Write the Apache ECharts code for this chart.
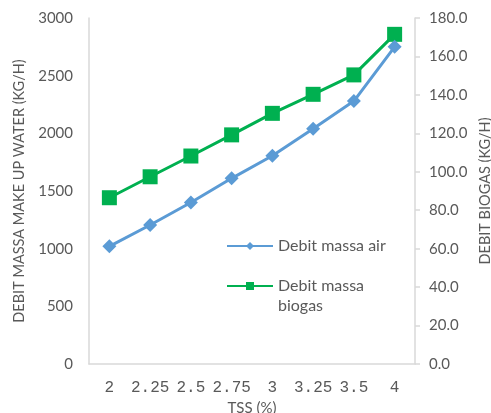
<!DOCTYPE html>
<html>
<head>
<meta charset="utf-8">
<script src="https://cdn.jsdelivr.net/npm/echarts@6/dist/echarts.min.js"></script>
<style>
  html, body { margin: 0; padding: 0; background: #fff; }
  #chart { width: 491px; height: 413px; }
</style>
</head>
<body>
<div id="chart"></div>
<script>
// TSS levels on the category axis
const tssLevels = ['2', '2.25', '2.5', '2.75', '3', '3.25', '3.5', '4'];
// Make-up water mass flow (kg/h), left axis
const massaAir = [1020, 1205, 1400, 1610, 1806, 2040, 2280, 2750];
// Biogas mass flow (kg/h), right axis
const massaBiogas = [86.5, 97.4, 108.2, 119.2, 130.4, 140.3, 150.4, 171.5];

const textGray = '#595959';
const axisGray = '#d9d9d9';
const baseFont = 'Lato';

const chart = echarts.init(document.getElementById('chart'));
chart.setOption({
  animation: false,
  backgroundColor: '#ffffff',
  grid: { left: 89, right: 76, top: 18, bottom: 49, containLabel: false, outerBoundsMode: 'none' },
  legend: {
    orient: 'vertical',
    left: 221,
    top: 231,
    itemWidth: 46,
    itemHeight: 10,
    itemGap: 0,
    textStyle: { color: textGray, fontFamily: baseFont, fontSize: 16, lineHeight: 20 },
    // the two-line entry gets a blank first line so its first text line sits level with the icon
    formatter: function (name) {
      return name === 'Debit massa biogas' ? '\nDebit massa\nbiogas' : name;
    },
    data: ['Debit massa air', 'Debit massa biogas']
  },
  xAxis: {
    type: 'category',
    data: tssLevels,
    boundaryGap: true,
    name: 'TSS (%)',
    nameLocation: 'middle',
    nameGap: 37,
    nameTextStyle: { color: textGray, fontFamily: baseFont, fontSize: 15 },
    axisLine: { lineStyle: { color: axisGray, width: 1.5 } },
    axisTick: { show: false },
    axisLabel: { color: textGray, fontFamily: 'Liberation Mono', fontSize: 16, margin: 16, interval: 0 },
    splitLine: { show: false }
  },
  yAxis: [
    {
      type: 'value',
      min: 0,
      max: 3000,
      interval: 500,
      position: 'left',
      name: 'DEBIT MASSA MAKE UP WATER (KG/H)',
      nameLocation: 'middle',
      nameGap: 60,
      nameRotate: 90,
      nameTextStyle: { color: textGray, fontFamily: baseFont, fontSize: 14.5 },
      axisLine: { show: true, lineStyle: { color: axisGray, width: 1.5 } },
      axisTick: { show: false },
      axisLabel: {
        color: textGray, fontFamily: baseFont, fontSize: 15, margin: 16,
        formatter: function (v) { return String(v); }
      },
      splitLine: { show: false }
    },
    {
      type: 'value',
      min: 0,
      max: 180,
      interval: 20,
      position: 'right',
      name: 'DEBIT BIOGAS (KG/H)',
      nameLocation: 'middle',
      nameGap: 61,
      nameRotate: 90,
      nameTextStyle: { color: textGray, fontFamily: baseFont, fontSize: 14.5 },
      axisLine: { show: true, lineStyle: { color: axisGray, width: 1.5 } },
      axisTick: { show: true, inside: false, length: 5, lineStyle: { color: axisGray, width: 1.5 } },
      axisLabel: {
        color: textGray, fontFamily: baseFont, fontSize: 15, margin: 14,
        formatter: function (v) { return v.toFixed(1); }
      },
      splitLine: { show: false }
    }
  ],
  series: [
    {
      name: 'Debit massa biogas',
      type: 'line',
      yAxisIndex: 1,
      data: massaBiogas,
      symbol: 'rect',
      symbolSize: 15,
      lineStyle: { color: '#00b050', width: 3 },
      itemStyle: { color: '#00b050' },
      z: 2
    },
    {
      name: 'Debit massa air',
      type: 'line',
      yAxisIndex: 0,
      data: massaAir,
      symbol: 'diamond',
      symbolSize: 14,
      lineStyle: { color: '#5b9bd5', width: 3 },
      itemStyle: { color: '#5b9bd5' },
      z: 3
    }
  ]
});
</script>
</body>
</html>
